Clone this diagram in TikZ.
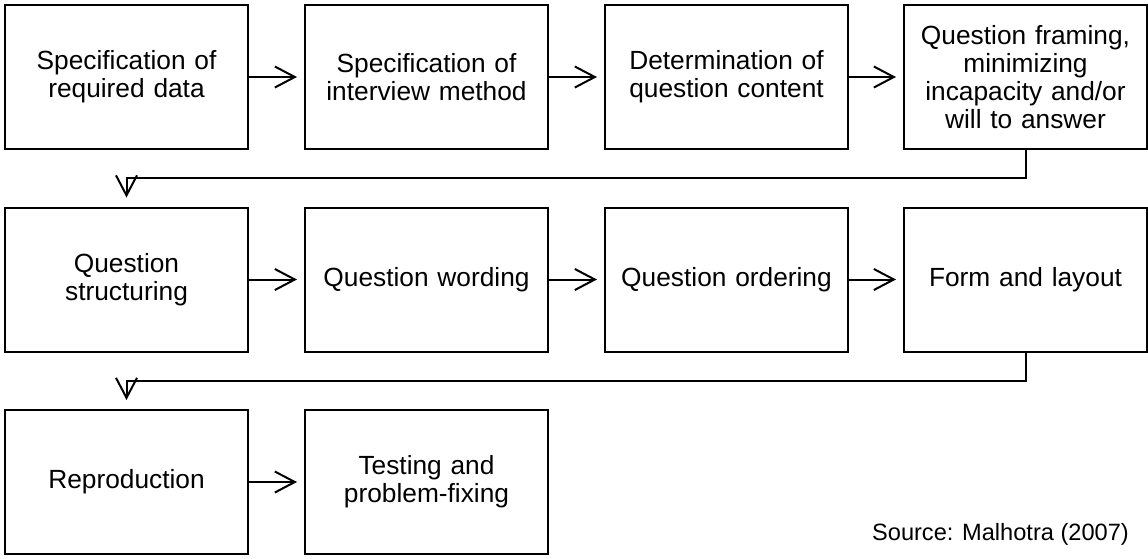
\documentclass[tikz,border=0pt]{standalone}
\usepackage{fontspec}
\setmainfont{Liberation Sans}
\usetikzlibrary{arrows.meta}
\begin{document}
\begin{tikzpicture}[x=1pt,y=-1pt,
  stage/.style={draw=black, line width=2pt, minimum width=243pt, minimum height=144pt,
    text width=236pt, align=center, inner sep=0pt,
    font=\fontsize{26.3pt}{28.2pt}\selectfont},
  flow/.style={line width=2pt, shorten >=7pt,
    -{Straight Barb[length=20pt,width=21pt,line width=2pt]}}]
\useasboundingbox (0,0) rectangle (1148,558);
% first row
\node[stage] (a1) at (126.5,77)  {Specification of\\required data};
\node[stage] (a2) at (426.5,77)  {Specification of\\interview method};
\node[stage] (a3) at (726.5,77)  {Determination of\\question content};
\node[stage] (a4) at (1025.5,77) {Question framing,\\minimizing\\incapacity and/or\\will to answer};
% second row
\node[stage] (b1) at (126.5,279.5)  {Question\\structuring};
\node[stage] (b2) at (426.5,279.5)  {Question wording};
\node[stage] (b3) at (726.5,279.5)  {Question ordering};
\node[stage] (b4) at (1025.5,279.5) {Form and layout};
% third row
\node[stage] (c1) at (126.5,482) {Reproduction};
\node[stage] (c2) at (426.5,482) {Testing and\\problem-fixing};
\node[anchor=base east, inner sep=0pt, font=\fontsize{23.6pt}{26pt}\selectfont]
  (src) at (1129,540) {Source: Malhotra (2007)};
% connectors within rows
\draw[flow] (a1.east) -- (a2.west);
\draw[flow] (a2.east) -- (a3.west);
\draw[flow] (a3.east) -- (a4.west);
\draw[flow] (b1.east) -- (b2.west);
\draw[flow] (b2.east) -- (b3.west);
\draw[flow] (b3.east) -- (b4.west);
\draw[flow] (c1.east) -- (c2.west);
% connectors between rows
\draw[flow, shorten >=9pt] (a4.south) -- ++(0,28) -| (b1.north);
\draw[flow, shorten >=9pt] (b4.south) -- ++(0,28) -| (c1.north);
\end{tikzpicture}
\end{document}
